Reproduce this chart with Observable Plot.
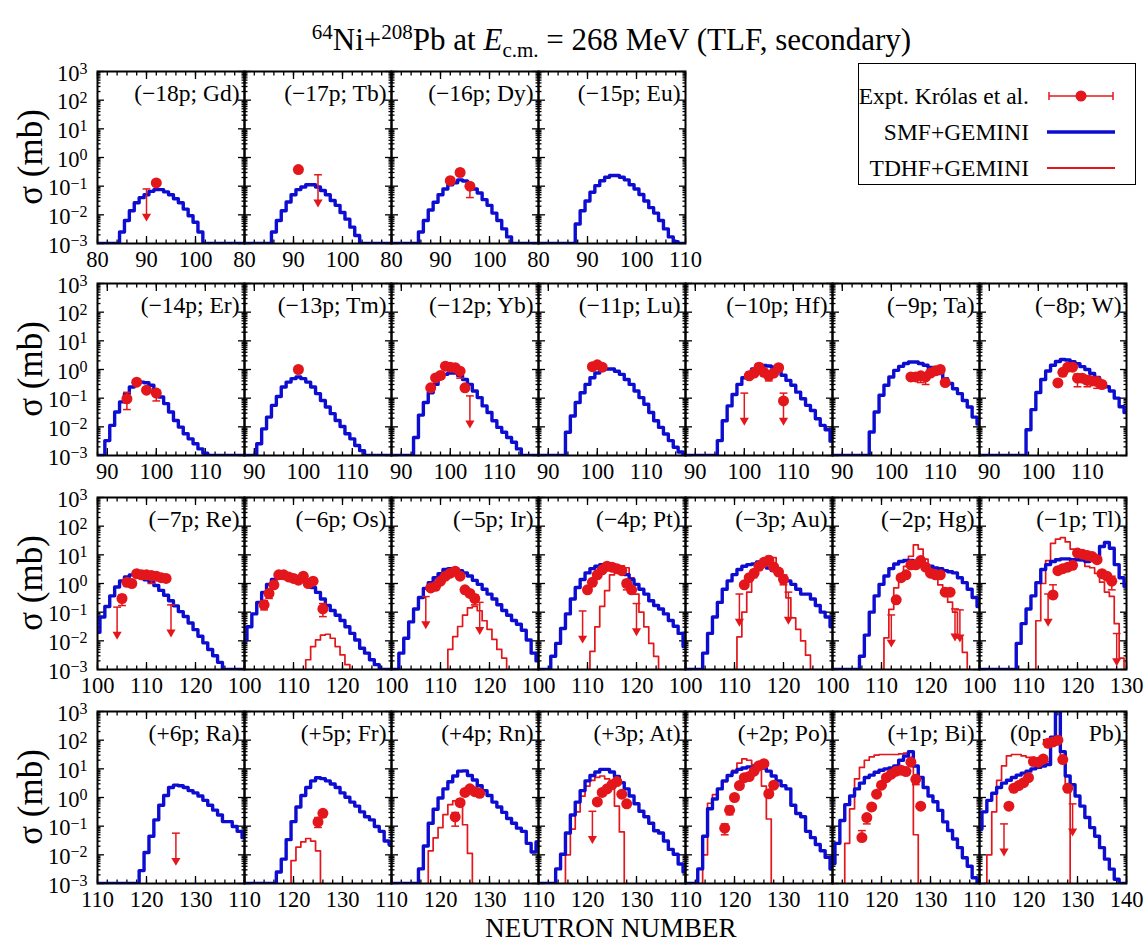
<!DOCTYPE html>
<html><head><meta charset="utf-8">
<script src="https://cdn.jsdelivr.net/npm/d3@7"></script>
<script src="https://cdn.jsdelivr.net/npm/@observablehq/plot@0.6"></script>
<style>
body{margin:0;background:#fff;}
#chart{position:relative;width:1148px;height:943px;font-family:"Liberation Serif","Times New Roman",serif;color:#000;overflow:hidden;}
.abs{position:absolute;white-space:nowrap;}
sup,sub{line-height:0;}
</style></head><body><div id="chart"></div>
<script>
// ---------------- data ----------------
// x domains of the four rows (neutron number) and tick labels
const ROW_DOMAIN = [[80,110],[88,118],[100,130],[110,140]];
const ROW_TICKLABELS = [[80,90,100],[90,100,110],[100,110,120],[110,120,130]];
const ROW_ENDLABEL = [110, null, 130, 140];

const labelsRow1 = ["(−18p; Gd)","(−17p; Tb)","(−16p; Dy)","(−15p; Eu)"];
const labelsRow2 = ["(−14p; Er)","(−13p; Tm)","(−12p; Yb)","(−11p; Lu)","(−10p; Hf)","(−9p; Ta)","(−8p; W)"];
const labelsRow3 = ["(−7p; Re)","(−6p; Os)","(−5p; Ir)","(−4p; Pt)","(−3p; Au)","(−2p; Hg)","(−1p; Tl)"];
const labelsRow4 = ["(+6p; Ra)","(+5p; Fr)","(+4p; Rn)","(+3p; At)","(+2p; Po)","(+1p; Bi)","(0p;\u00a0\u00a0\u00a0\u00a0\u00a0\u00a0\u00a0Pb)"];

// model histograms: [first neutron number, log10(sigma/mb) per neutron number]
const smf_Gd = [85, [-2.6,-2.2,-1.86,-1.58,-1.4,-1.3,-1.18,-1.12,-1.12,-1.2,-1.3,-1.44,-1.58,-1.8,-2.03,-2.26,-2.6]];
const smf_Tb = [86, [-2.6,-2.2,-1.86,-1.55,-1.3,-1.12,-1.03,-0.95,-0.95,-1.03,-1.15,-1.3,-1.5,-1.67,-1.92,-2.15,-2.43,-2.72]];
const smf_Dy = [86, [-2.6,-2.2,-1.83,-1.56,-1.3,-1.1,-0.95,-0.88,-0.78,-0.82,-0.92,-1.1,-1.24,-1.47,-1.67,-1.94,-2.2,-2.49,-2.77]];
const smf_Eu = [88, [-2.32,-1.86,-1.52,-1.21,-0.98,-0.81,-0.69,-0.63,-0.63,-0.69,-0.78,-0.95,-1.1,-1.29,-1.52,-1.75,-1.94,-2.2,-2.49,-2.77,-2.94]];
const smf_Er = [90, [-2.48,-1.95,-1.48,-1.13,-0.84,-0.61,-0.49,-0.44,-0.46,-0.55,-0.73,-0.96,-1.19,-1.48,-1.78,-2.01,-2.24,-2.42,-2.59,-2.77,-2.92]];
const smf_Tm = [91, [-2.59,-2.07,-1.66,-1.25,-0.94,-0.61,-0.44,-0.32,-0.26,-0.32,-0.44,-0.61,-0.84,-1.08,-1.31,-1.54,-1.78,-1.99,-2.24,-2.42,-2.65,-2.83]];
const smf_Yb = [93, [-2.37,-1.59,-1.15,-0.81,-0.52,-0.29,-0.17,-0.12,-0.12,-0.21,-0.35,-0.52,-0.75,-0.98,-1.27,-1.5,-1.79,-2.02,-2.19,-2.37,-2.54,-2.77]];
const smf_Lu = [94, [-2.19,-1.62,-1.15,-0.81,-0.52,-0.29,-0.12,-0.02,0.02,0.02,-0.06,-0.17,-0.35,-0.52,-0.75,-0.98,-1.21,-1.5,-1.79,-2.02,-2.25,-2.48,-2.71,-2.88]];
const smf_Hf = [95, [-2.48,-1.79,-1.27,-0.87,-0.52,-0.29,-0.12,0.02,0.11,0.14,0.12,0.08,-0.03,-0.2,-0.38,-0.55,-0.79,-1.02,-1.25,-1.43,-1.72,-1.95,-2.1,-2.5]];
const smf_Ta = [96, [-2.18,-1.48,-0.9,-0.55,-0.26,-0.03,0.11,0.21,0.26,0.26,0.21,0.15,0.07,0.0,-0.14,-0.32,-0.49,-0.67,-0.84,-1.08,-1.31,-1.66,-1.9]];
const smf_W  = [98, [-2.1,-1.4,-0.8,-0.35,-0.05,0.15,0.28,0.35,0.33,0.27,0.2,0.1,0.0,-0.14,-0.28,-0.44,-0.6,-0.75,-1.0,-1.3,-1.5]];
const smf_Re = [100, [-1.7,-1.17,-0.8,-0.43,-0.12,0.09,0.23,0.3,0.27,0.2,0.13,0.05,-0.07,-0.24,-0.41,-0.6,-0.78,-0.98,-1.15,-1.38,-1.61,-1.84,-2.07,-2.3,-2.52,-2.75]];
const smf_Os = [100, [-1.97,-1.51,-1.06,-0.66,-0.31,-0.03,0.14,0.26,0.31,0.31,0.26,0.2,0.11,-0.03,-0.14,-0.31,-0.54,-0.77,-0.94,-1.11,-1.29,-1.51,-1.74,-1.97,-2.26,-2.43,-2.66,-2.83]];
const smf_Ir = [102, [-2.43,-1.91,-1.34,-0.89,-0.49,-0.17,0.03,0.2,0.34,0.49,0.52,0.52,0.45,0.37,0.26,0.11,-0.03,-0.2,-0.37,-0.54,-0.74,-0.94,-1.11,-1.29,-1.42,-1.63,-1.97,-2.43,-2.7]];
const smf_Pt = [103, [-2.54,-2.09,-1.57,-1.06,-0.54,-0.14,0.14,0.37,0.52,0.6,0.66,0.68,0.66,0.57,0.45,0.31,0.14,-0.03,-0.2,-0.37,-0.6,-0.77,-0.89,-1.06,-1.29,-1.49,-1.74,-2.2]];
const smf_Au = [104, [-2.43,-1.74,-1.17,-0.66,-0.2,0.09,0.31,0.49,0.6,0.66,0.68,0.75,0.72,0.54,0.45,0.37,0.2,0.09,-0.03,-0.2,-0.37,-0.37,-0.54,-0.77,-1.0,-1.17,-1.51]];
const smf_Hg = [106, [-2.54,-1.8,-1.0,-0.43,-0.03,0.26,0.52,0.68,0.77,0.8,0.8,0.75,0.68,0.63,0.6,0.54,0.52,0.45,0.41,0.37,0.2,0.03,-0.2,-0.49,-0.8]];
const smf_Tl = [108, [-2.09,-1.4,-0.89,-0.43,0.03,0.49,0.66,0.77,0.83,0.86,0.86,0.83,0.83,0.83,0.77,0.8,0.94,1.29,1.43,1.23,0.66,0.2,-0.1]];
const smf_Ra = [119, [-2.55,-1.92,-1.35,-0.78,-0.27,0.07,0.35,0.43,0.41,0.35,0.24,0.16,0.05,-0.1,-0.27,-0.44,-0.61,-0.84,-0.84,-1.01,-1.18,-1.4]];
const smf_Fr = [117, [-2.6,-2.15,-1.47,-0.84,-0.33,0.07,0.35,0.58,0.69,0.66,0.58,0.47,0.35,0.16,0.01,-0.16,-0.3,-0.5,-0.67,-0.78,-1.01,-1.18,-1.52,-1.64]];
const smf_Rn = [116, [-2.49,-1.69,-0.9,-0.41,-0.02,0.3,0.55,0.75,0.92,0.93,0.77,0.61,0.41,0.24,0.07,-0.16,-0.33,-0.52,-0.73,-0.9,-1.07,-1.18,-1.6,-1.9,-1.55]];
const smf_At = [114, [-2.49,-1.98,-1.24,-0.61,-0.16,0.24,0.58,0.77,0.89,0.98,0.98,0.89,0.73,0.52,0.3,0.05,-0.22,-0.48,-0.67,-0.9,-1.16,-1.24,-1.52,-1.81,-1.98,-2.32,-2.6]];
const smf_Po = [113, [-2.49,-1.35,-0.39,-0.05,0.3,0.58,0.77,0.89,0.98,1.03,1.07,1.07,1.03,1.03,0.92,0.75,0.58,0.41,0.3,-0.27,-0.56,-0.67,-1.18,-1.4,-1.64,-1.86,-2.09,-2.49]];
const smf_Bi = [110, [-2.3,-1.6,-0.8,-0.25,0.05,0.3,0.5,0.7,0.78,0.88,0.95,1.0,1.03,1.1,1.3,1.45,1.6,1.1,0.7,0.35,0.05,-0.15,-0.45,-0.85,-1.15,-1.45,-1.75,-2.1,-2.4,-2.8]];
const smf_Pb = [110, [-1.1,-0.5,-0.1,0.15,0.35,0.5,0.6,0.7,0.78,0.85,0.92,1.0,1.05,1.1,1.15,2.1,3.3,1.6,0.75,0.45,0.05,-0.3,-0.7,-1.05,-1.35,-1.75,-2.15,-2.5,-2.85]];

const tdhf_Os = [113, [-2.66,-2.2,-1.97,-1.8,-1.77,-1.91,-2.2,-2.49,-2.83]];
const tdhf_Ir = [112, [-2.3,-1.85,-1.5,-1.1,-0.85,-0.8,-0.95,-1.3,-1.6,-1.95,-2.3,-2.6]];
const tdhf_Pt = [111, [-2.37,-1.51,-0.8,-0.25,0.3,0.55,0.62,0.55,0.2,-0.37,-1.0,-1.51,-2.09,-2.54]];
const tdhf_Au = [111, [-1.86,-1.0,-0.3,0.2,0.55,0.7,0.95,0.9,0.5,0.1,-0.5,-1.2,-1.6,-2.0,-2.5]];
const tdhf_Hg = [111, [-1.9,-0.9,-0.15,0.3,0.6,0.95,1.35,1.2,0.85,0.5,0.2,-0.05,-0.35,-0.65,-1.0,-1.9,-2.4]];
const tdhf_Tl = [112, [-1.3,0.0,0.8,1.4,1.55,1.6,1.45,1.2,1.0,0.8,0.6,0.55,0.35,0.05,-0.3,-0.45,-1.4,-2.6]];
const tdhf_Fr = [120, [-2.2,-1.73,-1.55,-1.43,-1.52,-1.86]];
const tdhf_Rn = [118, [-1.86,-1.41,-1.05,-0.6,-0.25,-0.12,-0.05,-0.95,-1.95]];
const tdhf_At = [116, [-2.0,-1.1,-0.5,0.05,0.4,0.6,0.7,0.75,0.65,0.5,-0.3,-1.2]];
const tdhf_Po = [114, [-2.0,-0.2,0.1,0.3,0.55,0.75,0.95,1.2,1.35,1.3,1.15,1.0,0.4,-0.75]];
const tdhf_Bi = [113, [-1.6,-0.4,0.65,1.05,1.3,1.42,1.48,1.5,1.5,1.5,1.5,1.52,1.55,1.4,-1.3]];
const tdhf_Pb = [112, [-2.0,-0.5,0.6,1.1,1.45,1.5,1.5,1.45,1.4,1.35,1.25,1.2,1.25,2.0,2.1,1.3,0.4]];

// experiment (Królas et al.): dots [N, sigma], error bars [N, low, high], upper limits [N, sigma]
const dots_Gd = [[92,0.13]];                  const lim_Gd = [[90,0.08]];
const dots_Tb = [[91,0.38]];                  const lim_Tb = [[95,0.25]];
const dots_Dy = [[92,0.155],[94,0.3],[96,0.1]]; const err_Dy = [[96,0.04,0.11]];
const dots_Er = [[94,0.095],[96,0.36],[98,0.19],[100,0.15]]; const err_Er = [[94,0.04,0.16],[100,0.08,0.17]];
const dots_Tm = [[99,1.0]];
const dots_Yb = [[96,0.23],[97,0.51],[98,0.62],[99,1.3],[100,1.2],[101,1.15],[102,0.87],[103,0.23]]; const err_Yb = [[102,0.5,0.9]]; const lim_Yb = [[104,0.12]];
const dots_Lu = [[99,1.25],[100,1.45],[101,1.2]];
const dots_Hf = [[101,0.6],[102,0.75],[103,1.2],[104,0.8],[105,0.6],[106,0.75],[107,1.15],[108,0.08]]; const err_Hf = [[103,0.9,1.6],[105,0.4,0.7]]; const lim_Hf = [[100,0.15],[108,0.15]];
const dots_Ta = [[104,0.55],[105,0.55],[106,0.6],[107,0.55],[108,0.75],[109,0.9],[110,1.0],[111,0.35]]; const err_Ta = [[106,0.35,0.65],[107,0.3,0.7]];
const dots_W  = [[104,0.34],[105,0.8],[106,1.2],[107,1.2],[108,0.5],[109,0.5],[110,0.42],[111,0.4],[112,0.38],[113,0.3]]; const err_W = [[108,0.25,0.7],[110,0.25,0.6],[112,0.22,0.5]];
const dots_Re = [[105,0.3],[106,1.1],[107,1.0],[108,2.2],[109,2.0],[110,2.0],[111,1.9],[112,1.8],[113,1.6],[114,1.5]]; const err_Re = [[105,0.17,0.4],[111,1.0,2.5]]; const lim_Re = [[104,0.15],[115,0.18]];
const dots_Os = [[104,0.18],[105,0.45],[106,0.9],[107,2.0],[108,2.0],[109,1.7],[110,1.5],[111,1.3],[112,1.8],[113,1.0],[114,1.2],[116,0.13]]; const err_Os = [[104,0.12,0.25],[105,0.3,0.6],[116,0.07,0.2]];
const dots_Ir = [[108,0.7],[109,0.8],[110,1.2],[111,1.8],[112,2.3],[113,2.7],[114,1.8],[115,0.6],[116,0.45],[117,0.3]]; const err_Ir = [[117,0.18,0.4]]; const lim_Ir = [[107,0.35],[118,0.22]];
const dots_Pt = [[110,0.6],[111,1.1],[112,2.0],[113,3.0],[114,4.0],[115,3.7],[116,3.3],[117,2.8],[118,1.0],[119,0.6]]; const err_Pt = [[118,0.6,1.3]]; const lim_Pt = [[109,0.11],[120,0.2]];
const dots_Au = [[112,0.9],[113,1.6],[114,2.3],[115,4.0],[116,5.5],[117,6.5],[118,3.8],[119,2.5],[120,1.4]]; const err_Au = [[120,0.9,2.0]]; const lim_Au = [[111,0.43],[121,0.5]];
const dots_Hg = [[113,0.27],[114,1.6],[115,2.0],[116,4.5],[117,4.5],[118,6.3],[119,3.7],[120,2.3],[121,2.0],[122,2.0],[123,0.5],[124,0.5]]; const lim_Hg = [[112,0.08],[125,0.13],[126,0.12]];
const dots_Tl = [[115,0.4],[116,2.8],[117,3.3],[118,3.7],[119,4.3],[120,11.5],[121,10.5],[122,9.5],[123,8.7],[124,6.8],[125,2.2],[126,1.8],[127,1.2]]; const err_Tl = [[115,0.3,0.9],[127,0.6,1.8]]; const lim_Tl = [[114,0.43],[128,0.018]];
const lim_Ra = [[126,0.057]];
const dots_Fr = [[125,0.14],[126,0.28]]; const err_Fr = [[125,0.09,0.2]];
const dots_Rn = [[123,0.21],[124,0.66],[125,1.5],[126,2.0],[127,1.6],[128,1.4]]; const err_Rn = [[123,0.1,0.3]];
const dots_At = [[122,0.7],[123,1.5],[124,2.0],[125,2.8],[126,3.6],[127,1.3],[128,0.6]]; const lim_At = [[121,0.33]];
const dots_Po = [[118,0.085],[119,0.36],[120,1.0],[121,2.6],[122,4.9],[123,5.4],[124,8.3],[125,12.9],[126,15.1],[127,1.35],[128,2.7]]; const err_Po = [[118,0.05,0.12],[119,0.25,0.5]];
const dots_Bi = [[116,0.04],[117,0.2],[118,0.47],[119,1.3],[120,2.7],[121,4.9],[122,6.5],[123,8.3],[124,9.0],[125,8.0],[126,17],[127,4.3],[128,0.5]]; const err_Bi = [[116,0.04,0.07],[117,0.12,0.25],[127,2.8,5.5]];
const dots_Pb = [[116,0.5],[117,2.1],[118,2.6],[119,3.3],[120,4.9],[121,18],[122,17],[123,22],[124,78],[125,87],[126,100],[127,21],[128,2.1]]; const lim_Pb = [[115,0.12],[129,0.6]];

// panel table: [SMF, TDHF, dots, error bars, upper limits]
const rows = [
  [[smf_Gd,null,dots_Gd,[],lim_Gd],[smf_Tb,null,dots_Tb,[],lim_Tb],[smf_Dy,null,dots_Dy,err_Dy,[]],[smf_Eu,null,[],[],[]]],
  [[smf_Er,null,dots_Er,err_Er,[]],[smf_Tm,null,dots_Tm,[],[]],[smf_Yb,null,dots_Yb,err_Yb,lim_Yb],[smf_Lu,null,dots_Lu,[],[]],
   [smf_Hf,null,dots_Hf,err_Hf,lim_Hf],[smf_Ta,null,dots_Ta,err_Ta,[]],[smf_W,null,dots_W,err_W,[]]],
  [[smf_Re,null,dots_Re,err_Re,lim_Re],[smf_Os,tdhf_Os,dots_Os,err_Os,[]],[smf_Ir,tdhf_Ir,dots_Ir,err_Ir,lim_Ir],[smf_Pt,tdhf_Pt,dots_Pt,err_Pt,lim_Pt],
   [smf_Au,tdhf_Au,dots_Au,err_Au,lim_Au],[smf_Hg,tdhf_Hg,dots_Hg,[],lim_Hg],[smf_Tl,tdhf_Tl,dots_Tl,err_Tl,lim_Tl]],
  [[smf_Ra,null,[],[],lim_Ra],[smf_Fr,tdhf_Fr,dots_Fr,err_Fr,[]],[smf_Rn,tdhf_Rn,dots_Rn,err_Rn,[]],[smf_At,tdhf_At,dots_At,[],lim_At],
   [smf_Po,tdhf_Po,dots_Po,err_Po,[]],[smf_Bi,tdhf_Bi,dots_Bi,err_Bi,[]],[smf_Pb,tdhf_Pb,dots_Pb,[],lim_Pb]]
];
const rowLabels = [labelsRow1, labelsRow2, labelsRow3, labelsRow4];

// ---------------- drawing ----------------
const FLOOR = 1e-3;
const BLUE = "#0d0dd2", RED = "#e3161b";
const W = 147, H = 172, X0 = 96.5;
const ROW_TOP = [71, 283, 496.5, 710.5];
const M = {t: 12, r: 12, b: 40, l: 12};
const FONT = "'Liberation Serif', 'Times New Roman', serif";
const TICKFONT = 22.5;

const yMajor = d3.range(-3, 4).map(k => Math.pow(10, k));
const yMinor = d3.range(-3, 3).flatMap(k => d3.range(2, 10).map(m => m * Math.pow(10, k)));
const yFmt = v => "10^" + String(Math.round(Math.log10(v))).replace("-", "\u2212");
const capSymbol = {draw(ctx, size) { const w = Math.sqrt(size); ctx.moveTo(-w, 0); ctx.lineTo(w, 0); }};

function steps(series, d0, d1, fill) {
  const [start, logs] = series;
  const end = start + logs.length;
  const a = fill ? d0 : start - 1, b = fill ? d1 : end;
  const pts = [];
  for (let n = a; n <= b; n++) {
    const i = n - start;
    pts.push({N: n, s: (i >= 0 && i < logs.length) ? Math.pow(10, logs[i]) : FLOOR});
  }
  return pts;
}

function makePanel(r, c, label, spec, isLast) {
  const [smf, tdhf, dots, errs, lims] = spec;
  const [d0, d1] = ROW_DOMAIN[r];
  const xMaj = d3.range(Math.ceil(d0 / 10) * 10, d1 + 0.5, 10);
  const xMin = d3.range(Math.ceil(d0 / 2) * 2, d1 + 0.5, 2);
  const xLab = ROW_TICKLABELS[r].concat(isLast && ROW_ENDLABEL[r] != null ? [ROW_ENDLABEL[r]] : []);
  const tk = {label: null, stroke: "black", strokeWidth: 1.3, tickFormat: () => ""};
  const marks = [
    Plot.axisX({ticks: xMin, anchor: "bottom", tickSize: -3.5, ...tk}),
    Plot.axisX({ticks: xMin, anchor: "top", tickSize: -3.5, ...tk}),
    Plot.axisX({ticks: xMaj, anchor: "bottom", tickSize: -7, ...tk}),
    Plot.axisX({ticks: xMaj, anchor: "top", tickSize: -7, ...tk}),
    Plot.axisY({ticks: yMinor, anchor: "left", tickSize: -3.5, ...tk}),
    Plot.axisY({ticks: yMinor, anchor: "right", tickSize: -3.5, ...tk}),
    Plot.axisY({ticks: yMajor, anchor: "left", tickSize: -7, ...tk}),
    Plot.axisY({ticks: yMajor, anchor: "right", tickSize: -7, ...tk}),
    Plot.axisX({ticks: xLab, anchor: "bottom", tickSize: 0, tickPadding: 8, label: null, fontSize: TICKFONT, fontFamily: FONT, tickFormat: d => String(d)}),
    Plot.text([label], {text: d => d, frameAnchor: "top-right", lineAnchor: "middle", dx: -5, dy: 22, fontSize: 23.5, fontFamily: FONT, fill: "black"})
  ];
  if (c === 0) marks.push(Plot.axisY({ticks: yMajor, anchor: "left", tickSize: 0, tickPadding: 10, dy: 2, label: null, fontSize: TICKFONT, fontFamily: FONT, tickFormat: yFmt}));
  if (tdhf) marks.push(Plot.line(steps(tdhf, d0, d1, false), {x: "N", y: "s", curve: "step", stroke: RED, strokeWidth: 1.7, clip: true}));
  marks.push(Plot.line(steps(smf, d0, d1, true), {x: "N", y: "s", curve: "step", stroke: BLUE, strokeWidth: 3.4, clip: true}));
  if (errs.length) {
    marks.push(Plot.link(errs, {x1: d => d[0], x2: d => d[0], y1: d => d[1], y2: d => d[2], stroke: RED, strokeWidth: 1.5}));
    marks.push(Plot.dot(errs, {x: d => d[0], y: d => d[1], symbol: capSymbol, r: 2.2, stroke: RED, strokeWidth: 1.5}));
    marks.push(Plot.dot(errs, {x: d => d[0], y: d => d[2], symbol: capSymbol, r: 2.2, stroke: RED, strokeWidth: 1.5}));
  }
  if (lims.length) {
    marks.push(Plot.link(lims, {x1: d => d[0], x2: d => d[0], y1: d => d[1], y2: d => d[1] / 8, stroke: RED, strokeWidth: 1.5}));
    marks.push(Plot.dot(lims, {x: d => d[0], y: d => d[1], symbol: capSymbol, r: 2.2, stroke: RED, strokeWidth: 1.5}));
    marks.push(Plot.dot(lims, {x: d => d[0], y: d => d[1] / 9, symbol: "triangle", rotate: 180, r: 3.4, fill: RED, stroke: "none"}));
  }
  if (dots.length) marks.push(Plot.dot(dots, {x: d => d[0], y: d => d[1], r: 5.5, fill: RED, stroke: "none"}));
  marks.push(Plot.frame({stroke: "black", strokeWidth: 2, fill: "none"}));

  const svg = Plot.plot({
    width: W + M.l + M.r, height: H + M.t + M.b,
    marginTop: M.t, marginRight: M.r, marginBottom: M.b, marginLeft: M.l,
    x: {domain: [d0, d1], label: null},
    y: {type: "log", domain: [1e-3, 1e3], label: null},
    style: {background: "transparent", overflow: "visible", fontFamily: FONT, fontSize: TICKFONT + "px", color: "black"},
    marks
  });
  svg.setAttribute("font-family", FONT);
  svg.style.fontFamily = FONT;
  // superscript exponents in 10^k labels
  svg.querySelectorAll("text").forEach(t => {
    const m = /^10\^(.+)$/.exec(t.textContent);
    if (m) {
      t.textContent = "10";
      const ts = document.createElementNS("http://www.w3.org/2000/svg", "tspan");
      ts.setAttribute("dy", "-0.42em"); ts.setAttribute("font-size", "16");
      ts.textContent = m[1];
      t.appendChild(ts);
    }
  });
  svg.style.position = "absolute";
  svg.style.left = (X0 + c * W - M.l) + "px";
  svg.style.top = (ROW_TOP[r] - M.t) + "px";
  return svg;
}

const chart = document.getElementById("chart");
rows.forEach((row, r) => row.forEach((spec, c) => {
  chart.appendChild(makePanel(r, c, rowLabels[r][c], spec, c === row.length - 1));
}));

// title
const title = document.createElement("div");
title.className = "abs";
title.style.cssText = "left:0;width:1223px;text-align:center;top:24px;font-size:31px;line-height:31px;";
title.innerHTML = '<sup style="font-size:21px">64</sup>Ni+<sup style="font-size:21px">208</sup>Pb at <i>E</i><sub style="font-size:21px">c.m.</sub> = 268 MeV (TLF, secondary)';
chart.appendChild(title);

// y-axis labels
ROW_TOP.forEach(t => {
  const d = document.createElement("div");
  d.className = "abs";
  d.style.cssText = `left:${31 - 75}px;top:${t + H / 2 - 18}px;width:150px;height:36px;line-height:36px;text-align:center;font-size:35px;transform:rotate(-90deg);transform-origin:50% 50%;`;
  d.textContent = "σ (mb)";
  chart.appendChild(d);
});

// x-axis title
const xt = document.createElement("div");
xt.className = "abs";
xt.style.cssText = "left:" + (X0 + 3.5 * W - 250) + "px;width:500px;text-align:center;top:914px;font-size:27px;line-height:28px;";
xt.textContent = "NEUTRON NUMBER";
chart.appendChild(xt);

// legend
const lg = document.createElement("div");
lg.className = "abs";
lg.style.cssText = "left:858px;top:63px;width:276px;height:120px;border:1.6px solid #000;background:#fff;font-size:23.5px;";
const legendRows = [
  ["Expt. Królas et al.", `<line x1="4" y1="10" x2="68" y2="10" stroke="${RED}" stroke-width="1.5"/><line x1="4" y1="6" x2="4" y2="14" stroke="${RED}" stroke-width="1.5"/><line x1="68" y1="6" x2="68" y2="14" stroke="${RED}" stroke-width="1.5"/><circle cx="36" cy="10" r="5.5" fill="${RED}"/>`],
  ["SMF+GEMINI", `<line x1="2" y1="10" x2="70" y2="10" stroke="${BLUE}" stroke-width="3.6"/>`],
  ["TDHF+GEMINI", `<line x1="2" y1="10" x2="70" y2="10" stroke="${RED}" stroke-width="1.8"/>`]
];
legendRows.forEach((lr, i) => {
  const row = document.createElement("div");
  row.className = "abs";
  row.style.cssText = `left:0;top:${19 + i * 36}px;width:276px;height:26px;`;
  row.innerHTML = `<span class="abs" style="right:106px;top:0;line-height:26px;">${lr[0]}</span><svg class="abs" style="left:186px;top:3px;" width="74" height="20">${lr[1]}</svg>`;
  lg.appendChild(row);
});
chart.appendChild(lg);
</script></body></html>
